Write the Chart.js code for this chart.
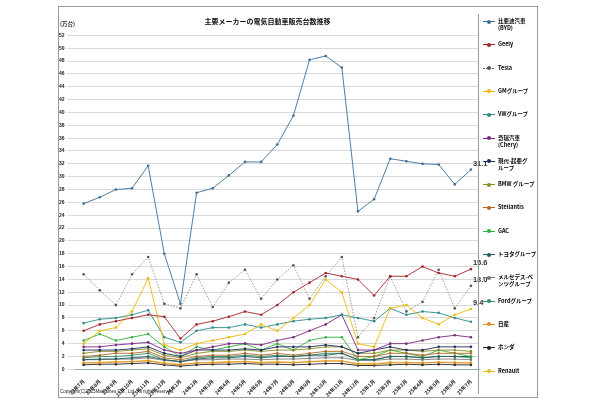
<!DOCTYPE html>
<html lang="ja">
<head>
<meta charset="UTF-8">
<script src="https://cdn.jsdelivr.net/npm/chart.js@4.4.1/dist/chart.umd.min.js"></script>
<style>
  body { margin: 0; background: #fff; font-family: "Noto Sans CJK JP", sans-serif; }
  #wrap { position: relative; width: 600px; height: 400px; }
  #frame { position: absolute; left: 58px; top: 6px; width: 480px; height: 392px; border: 1px solid #999; box-sizing: border-box; }
  #legend { position: absolute; left: 478px; top: 14px; width: 60px; height: 380px; border-left: 1px solid #999; font-size: 5.5px; font-weight: bold; }
  .item { position: absolute; left: 4px; display: flex; align-items: flex-start; line-height: 7px; }
  .sw { width: 12px; height: 7px; position: relative; margin-right: 3px; flex: none; }
  .sw i { position: absolute; left: 0; right: 0; top: 3px; height: 1px; }
  .sw b { position: absolute; left: 4px; top: 1.5px; width: 4px; height: 4px; border-radius: 2px; }
</style>
</head>
<body>
<div id="wrap">
  <div id="frame"></div>
  <canvas id="c" width="600" height="400"></canvas>
  <div id="legend"></div>
</div>
<script>
// months
var months = ['23年7月','23年8月','23年9月','23年10月','23年11月','23年12月','24年1月','24年2月','24年3月','24年4月','24年5月','24年6月','24年7月','24年8月','24年9月','24年10月','24年11月','24年12月','25年1月','25年2月','25年3月','25年4月','25年5月','25年6月','25年7月'];

// series, 万台
var byd        = [25.8,26.8,28.0,28.2,31.7,18.0,10.2,27.5,28.2,30.2,32.3,32.3,35.0,39.5,48.2,48.8,47.0,24.6,26.5,32.8,32.4,32.0,31.9,28.8,31.1];
var geely      = [6.0,7.0,7.5,8.0,8.5,8.2,4.8,7.0,7.5,8.2,9.0,8.5,10.0,12.0,13.5,15.0,14.5,14.0,11.5,14.5,14.5,16.0,15.0,14.5,15.6];
var tesla      = [14.8,12.3,10.0,14.8,17.5,10.2,9.5,14.8,9.7,13.5,15.5,11.0,14.0,16.2,11.0,14.5,17.5,5.0,8.0,14.5,9.0,10.5,15.5,9.5,13.0];
var gm         = [4.0,6.0,6.5,9.0,14.2,3.8,3.0,4.0,4.5,5.0,5.5,7.0,6.0,8.0,10.0,14.0,12.0,4.0,3.5,9.5,10.0,8.0,7.0,8.5,9.4];
var vw         = [7.2,7.8,8.0,8.5,9.2,5.0,4.2,6.0,6.5,6.5,7.0,6.5,7.0,7.5,7.8,8.0,8.5,8.0,7.5,9.5,8.5,9.0,8.8,8.0,7.4];
var chery      = [3.5,3.5,3.8,4.0,4.2,3.0,2.5,3.0,3.5,4.0,4.0,3.8,4.5,5.0,6.0,7.0,8.5,3.0,3.0,4.0,4.0,4.5,5.0,5.3,5.0];
var hyundai    = [3.0,3.0,3.0,3.2,3.5,2.5,2.0,3.0,3.0,3.0,3.2,3.0,3.5,3.5,3.5,3.8,3.5,2.5,3.0,3.5,3.0,3.0,3.5,3.5,3.5];
var bmw        = [2.5,2.8,2.8,3.0,3.2,2.2,1.8,2.5,2.8,2.8,3.0,2.8,3.0,3.0,3.2,3.5,3.5,2.5,2.5,3.0,3.0,2.8,3.0,3.0,2.8];
var stellantis = [2.0,2.2,2.5,2.5,2.8,1.8,1.5,2.0,2.2,2.2,2.5,2.2,2.5,2.2,2.5,2.8,2.8,2.0,2.0,2.5,2.5,2.2,2.5,2.5,2.5];
var gac        = [4.5,5.5,4.5,5.0,5.5,3.5,2.0,3.5,3.0,3.5,4.0,3.0,4.0,3.0,4.5,5.0,5.0,1.5,2.0,3.0,2.5,2.0,3.0,2.5,2.0];
var toyota     = [1.5,1.6,1.6,1.8,2.0,1.5,1.2,1.6,1.8,1.8,2.0,1.8,2.0,2.0,2.2,2.2,2.5,1.5,1.5,2.0,2.0,1.8,2.0,2.0,2.0];
var mercedes   = [1.5,1.5,1.6,1.6,1.8,1.4,1.2,1.5,1.5,1.6,1.6,1.5,1.6,1.6,1.7,1.8,1.8,1.4,1.4,1.6,1.6,1.5,1.6,1.6,1.5];
var ford       = [1.8,2.0,2.0,2.2,2.5,1.5,1.2,1.8,2.0,2.0,2.2,2.0,2.2,2.0,2.2,2.5,2.5,1.5,1.5,2.0,2.0,1.8,2.0,2.0,1.8];
var nissan     = [1.0,1.0,1.1,1.2,1.3,0.9,0.7,1.0,1.0,1.1,1.2,1.0,1.1,1.0,1.2,1.3,1.3,0.8,0.8,1.0,1.0,1.0,1.1,1.0,1.0];
var honda      = [0.7,0.8,0.8,0.9,1.0,0.7,0.5,0.7,0.8,0.8,0.9,0.8,0.8,0.7,0.8,0.9,0.9,0.6,0.6,0.7,0.8,0.7,0.8,0.7,0.7];
var renault    = [1.0,1.1,1.2,1.2,1.4,1.0,0.8,1.0,1.1,1.2,1.2,1.1,1.2,1.1,1.2,1.3,1.3,0.9,0.9,1.1,1.1,1.0,1.1,1.1,1.0];

var names  = ['比亜迪汽車\n(BYD)','Geely','Tesla','GMグループ','VWグループ','奇瑞汽車\n(Chery)','現代-起亜グ\nループ','BMW グループ','Stellantis','GAC','トヨタグループ','メルセデス-ベ\nンツグループ','Fordグループ','日産','ホンダ','Renault'];
var series = [byd,geely,tesla,gm,vw,chery,hyundai,bmw,stellantis,gac,toyota,mercedes,ford,nissan,honda,renault];
var colors = ['#3b6f98','#a3242a','#555555','#f2b705','#2e8b8b','#7a2a7e','#1f2d5c','#8c8c24','#b8661e','#33b040','#245a5a','#7a7a7a','#2f8f6f','#e08a2a','#222222','#e6c020'];
var endLabels = {0:'31.1',1:'15.6',2:'13.0',3:'9.4'};

var datasets = series.map(function (d, i) {
  return {
    label: names[i], data: d,
    borderColor: colors[i], backgroundColor: colors[i],
    borderWidth: i == 2 ? 0.6 : 0.9,
    borderDash: i == 2 ? [1.5, 1.5] : [],
    pointRadius: 1.3, pointBorderWidth: 0
  };
});

var endLabelPlugin = {
  id: 'endLabels',
  afterDatasetsDraw: function (chart) {
    var ctx = chart.ctx;
    ctx.save();
    ctx.font = 'bold 7.5px "Liberation Sans"';
    ctx.fillStyle = '#333';
    Object.keys(endLabels).forEach(function (k) {
      var meta = chart.getDatasetMeta(+k);
      var p = meta.data[meta.data.length - 1];
      ctx.fillText(endLabels[k], p.x + 2, p.y - 4);
    });
    ctx.restore();
  }
};

new Chart(document.getElementById('c'), {
  type: 'line',
  data: { labels: months, datasets: datasets },
  plugins: [endLabelPlugin],
  options: {
    responsive: false, animation: false,
    layout: { padding: { left: 56, right: 121, top: 17, bottom: 1 } },
    plugins: {
      legend: { display: false },
      tooltip: { enabled: false },
      title: { display: true, text: '主要メーカーの電気自動車販売台数推移', font: { size: 7, weight: 'bold', family: '"Noto Sans CJK JP"' }, color: '#111', padding: { top: 0, bottom: 10 } }
    },
    scales: {
      x: {
        offset: true,
        grid: { display: false },
        border: { color: '#9ab' },
        ticks: { maxRotation: 45, minRotation: 45, autoSkip: false, font: { size: 5, weight: 'bold', family: '"Noto Sans CJK JP"' }, color: '#222', padding: 1 }
      },
      y: {
        min: 0, max: 52,
        title: { display: false },
        grid: { color: '#c8c8c8', lineWidth: 0.7 },
        border: { display: false },
        ticks: { stepSize: 2, font: { size: 5, weight: 'bold' }, color: '#222', padding: 3 }
      }
    }
  }
});

// unit and copyright
var ctx = document.getElementById('c').getContext('2d');
ctx.font = 'bold 5.5px "Noto Sans CJK JP"';
ctx.fillStyle = '#222';
ctx.fillText('(万台)', 60, 26);
ctx.font = '4.5px "Liberation Sans"';
ctx.fillText('Copyright(C)2025MarkLines CO., Ltd. All rights reserved.', 60, 393);

// legend
var lg = document.getElementById('legend');
names.forEach(function (n, i) {
  var el = document.createElement('div');
  el.className = 'item';
  el.style.top = (4 + i * 23.3) + 'px';
  var dash = i == 2 ? 'background:repeating-linear-gradient(90deg,' + colors[i] + ' 0 1.5px,transparent 1.5px 3px)' : 'background:' + colors[i];
  el.innerHTML = '<span class="sw"><i style="' + dash + '"></i><b style="background:' + colors[i] + '"></b></span><span>' + n.replace('\n', '<br>') + '</span>';
  lg.appendChild(el);
});
</script>
</body>
</html>
